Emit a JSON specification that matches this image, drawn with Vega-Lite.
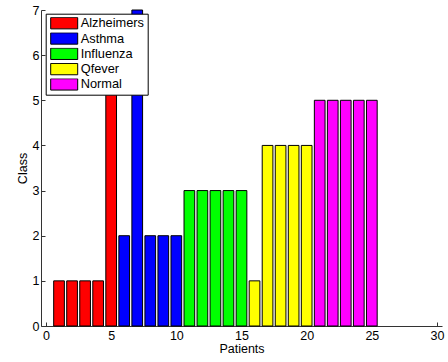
{
  "$schema": "https://vega.github.io/schema/vega-lite/v6.json",
  "autosize": {"type": "none"},
  "padding": {"left": 41, "top": 10, "right": 6, "bottom": 36},
  "width": 401,
  "height": 316,
  "background": "white",
  "config": {
    "font": "Liberation Sans",
    "view": {"stroke": null},
    "axis": {
      "grid": false,
      "domainColor": "#333333",
      "domainWidth": 1,
      "tickColor": "#333333",
      "tickSize": -4,
      "labelColor": "black",
      "labelFontSize": 12.5,
      "titleColor": "black",
      "titleFontSize": 12.5,
      "titleFontWeight": "normal"
    }
  },
  "data": {
    "values": [
      {"patient": 1, "value": 1, "class": "Alzheimers"},
      {"patient": 2, "value": 1, "class": "Alzheimers"},
      {"patient": 3, "value": 1, "class": "Alzheimers"},
      {"patient": 4, "value": 1, "class": "Alzheimers"},
      {"patient": 5, "value": 6, "class": "Alzheimers"},
      {"patient": 6, "value": 2, "class": "Asthma"},
      {"patient": 7, "value": 7, "class": "Asthma"},
      {"patient": 8, "value": 2, "class": "Asthma"},
      {"patient": 9, "value": 2, "class": "Asthma"},
      {"patient": 10, "value": 2, "class": "Asthma"},
      {"patient": 11, "value": 3, "class": "Influenza"},
      {"patient": 12, "value": 3, "class": "Influenza"},
      {"patient": 13, "value": 3, "class": "Influenza"},
      {"patient": 14, "value": 3, "class": "Influenza"},
      {"patient": 15, "value": 3, "class": "Influenza"},
      {"patient": 16, "value": 1, "class": "Qfever"},
      {"patient": 17, "value": 4, "class": "Qfever"},
      {"patient": 18, "value": 4, "class": "Qfever"},
      {"patient": 19, "value": 4, "class": "Qfever"},
      {"patient": 20, "value": 4, "class": "Qfever"},
      {"patient": 21, "value": 5, "class": "Normal"},
      {"patient": 22, "value": 5, "class": "Normal"},
      {"patient": 23, "value": 5, "class": "Normal"},
      {"patient": 24, "value": 5, "class": "Normal"},
      {"patient": 25, "value": 5, "class": "Normal"}
    ]
  },
  "mark": {"type": "bar", "width": 10.7, "stroke": "black", "strokeWidth": 1, "opacity": 1},
  "encoding": {
    "x": {
      "field": "patient",
      "type": "quantitative",
      "scale": {"domain": [0, 30], "nice": false, "zero": false},
      "axis": {"values": [0, 5, 10, 15, 20, 25, 30], "title": "Patients", "labelPadding": 7.5, "titlePadding": 0}
    },
    "y": {
      "field": "value",
      "type": "quantitative",
      "scale": {"domain": [0, 7], "nice": false},
      "axis": {"values": [0, 1, 2, 3, 4, 5, 6, 7], "title": "Class", "labelPadding": 6, "titlePadding": 3}
    },
    "color": {
      "field": "class",
      "type": "nominal",
      "scale": {
        "domain": ["Alzheimers", "Asthma", "Influenza", "Qfever", "Normal"],
        "range": ["#ff0000", "#0000ff", "#00ff00", "#ffff00", "#ff00ff"]
      },
      "legend": {
        "title": null,
        "orient": "none",
        "legendX": 4.7,
        "legendY": 3.7,
        "fillColor": "white",
        "strokeColor": "black",
        "padding": 3.5,
        "symbolType": "M-1,-0.42H1V0.42H-1Z",
        "symbolSize": 729,
        "symbolOffset": 1,
        "clipHeight": 12,
        "symbolStrokeColor": "black",
        "symbolStrokeWidth": 1,
        "symbolOpacity": 1,
        "labelFontSize": 12.8,
        "labelColor": "black",
        "labelOffset": 2.5,
        "rowPadding": 2.3
      }
    }
  }
}
